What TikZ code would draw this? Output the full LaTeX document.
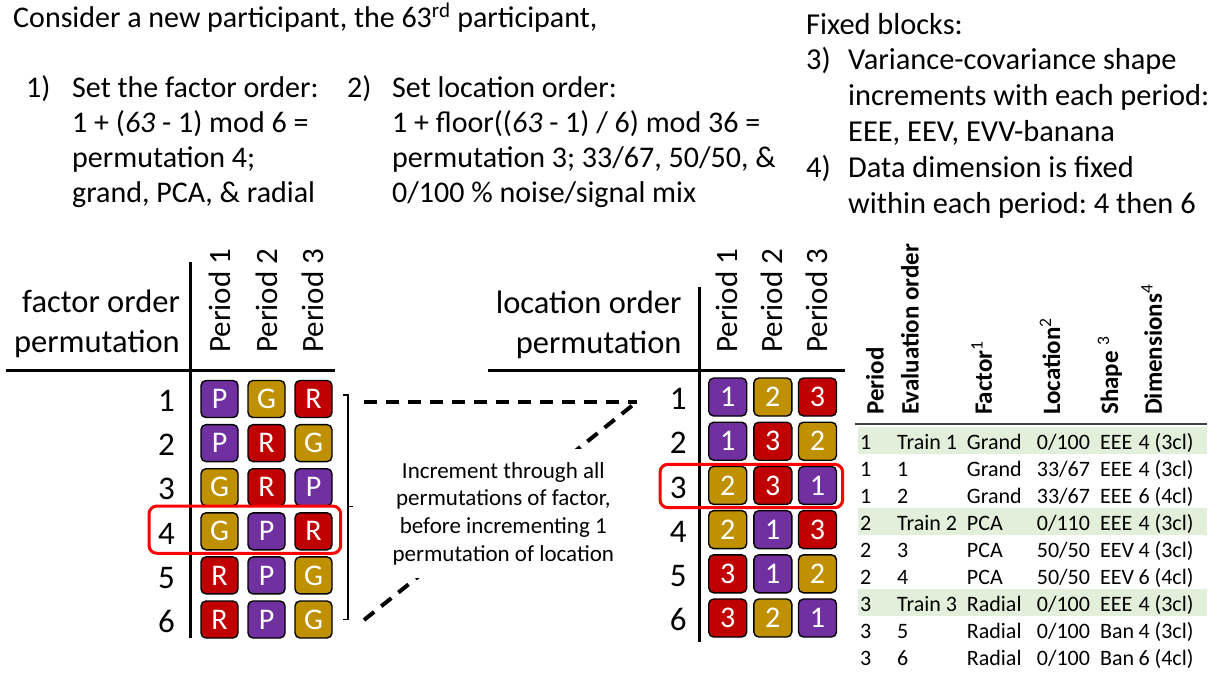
\documentclass[tikz,border=0pt]{standalone}
\usepackage{fontspec}
\setmainfont{Carlito}
\frenchspacing
\definecolor{cP}{HTML}{7030A0}
\definecolor{cG}{HTML}{BF9000}
\definecolor{cR}{HTML}{C00000}
\definecolor{c1}{HTML}{7030A0}
\definecolor{c2}{HTML}{BF9000}
\definecolor{c3}{HTML}{C00000}
\definecolor{hlred}{HTML}{FF0000}
\definecolor{band}{HTML}{E2EFDA}
\definecolor{rule}{HTML}{404040}
\tikzset{
  txt/.style={inner sep=0pt, font=\fontsize{30.4}{35.8}\selectfont, align=left},
  txtl/.style={inner sep=0pt, font=\fontsize{30}{35.3}\selectfont, align=left},
  hdr/.style={inner sep=0pt, font=\fontsize{32.5}{38}\selectfont},
  per/.style={inner sep=0pt, rotate=90, anchor=west, font=\fontsize{31}{36}\selectfont},
  rownum/.style={inner sep=0pt, anchor=base east, font=\fontsize{33}{38}\selectfont},
  tile/.style={draw=black, line width=1.4pt, rounded corners=5pt, minimum width=37pt, minimum height=37pt, inner sep=0pt, text=white, font=\fontsize{30}{32}\selectfont},
  tabline/.style={line width=3pt},
  hl/.style={draw=hlred, line width=3pt, rounded corners=8pt},
  dashline/.style={line width=4pt, dash pattern=on 13pt off 9pt},
  note/.style={fill=white, inner xsep=6pt, inner ysep=0pt, minimum height=129pt, align=center, font=\fontsize{23}{27.7}\selectfont},
  thdr/.style={inner sep=0pt, rotate=90, anchor=west, font=\bfseries\fontsize{25}{30}\selectfont},
  cell/.style={inner sep=0pt, anchor=base west, font=\fontsize{22}{27}\selectfont},
}
\begin{document}
\begin{tikzpicture}[x=1pt,y=-1pt]
\useasboundingbox (0,0) rectangle (1222,691);

% ---------- top texts (base anchor = last line) ----------
\node[txtl, anchor=base west] (intro) at (13,27) {Consider a new participant, the 63\textsuperscript{rd} participant,};
\node[txtl, anchor=base west] (n1) at (26,97) {1)};
\node[txtl, anchor=base west] (s1) at (72,202.9) {Set the factor order:\\1 + (\textit{63} - 1) mod 6 =\\permutation 4;\\grand, PCA, \& radial};
\node[txtl, anchor=base west] (n2) at (347,97) {2)};
\node[txtl, anchor=base west] (s2) at (392,202.9) {Set location order:\\1 + floor((\textit{63} - 1) / 6) mod 36 =\\permutation 3; 33/67, 50/50, \&\\0/100 \% noise/signal mix};
\node[txt, anchor=base west] (fixed) at (806,34) {Fixed blocks:};
\node[txt, anchor=base west] (n3) at (806,69.8) {3)};
\node[txt, anchor=base west] (s3) at (848,141.4) {Variance-covariance shape\\increments with each period:\\EEE, EEV, EVV-banana};
\node[txt, anchor=base west] (n4) at (806,177.2) {4)};
\node[txt, anchor=base west] (s4) at (848,213) {Data dimension is fixed\\within each period: 4 then 6};

% ---------- factor order table ----------
\node[hdr, anchor=base east] (fh1) at (180,312) {factor order};
\node[hdr, anchor=base east] (fh2) at (180,352) {permutation};
\node[per] (fp1) at (220,353) {Period 1};
\node[per] (fp2) at (266.5,353) {Period 2};
\node[per] (fp3) at (313,353) {Period 3};
\draw[tabline] (6,370.7) -- (335,370.7);
\draw[tabline] (190.7,262) -- (190.7,638);
\foreach \r/\a/\b/\c in {1/P/G/R,2/P/R/G,3/G/R/P,4/G/P/R,5/R/P/G,6/R/P/G}{
  \pgfmathsetmacro{\yy}{399+44.1*(\r-1)}
  \node[rownum] (fn\r) at (175,\yy+12.7) {\r};
  \node[tile, fill=c\a] (f\r a) at (219.5,\yy) {\a};
  \node[tile, fill=c\b] (f\r b) at (266.5,\yy) {\b};
  \node[tile, fill=c\c] (f\r c) at (313.5,\yy) {\c};
}
\draw[hl] (149,506) rectangle (340.7,553.3);

% bracket
\draw[line width=1.4pt] (343,395) -- (348,395) -- (348,619.3) -- (343,619.3);
\draw[line width=1.4pt] (348,506.7) -- (353,506.7);

% ---------- location order table ----------
\node[hdr, anchor=base east] (lh1) at (681.7,313) {location order};
\node[hdr, anchor=base east] (lh2) at (681.7,353) {permutation};
\node[per] (lp1) at (727,353) {Period 1};
\node[per] (lp2) at (772,353) {Period 2};
\node[per] (lp3) at (817,353) {Period 3};
\draw[tabline] (488,370.7) -- (845,370.7);
\draw[tabline] (699,287) -- (699,642);
\foreach \r/\a/\b/\c in {1/1/2/3,2/1/3/2,3/2/3/1,4/2/1/3,5/3/1/2,6/3/2/1}{
  \pgfmathsetmacro{\yy}{397+44.2*(\r-1)}
  \node[rownum] (ln\r) at (686.7,\yy+12.7) {\r};
  \node[tile, fill=c\a, minimum width=38pt, minimum height=38pt] (l\r a) at (727.7,\yy) {\a};
  \node[tile, fill=c\b, minimum width=38pt, minimum height=38pt] (l\r b) at (772.8,\yy) {\b};
  \node[tile, fill=c\c, minimum width=38pt, minimum height=38pt] (l\r c) at (817.5,\yy) {\c};
}
\draw[hl] (660,464.3) rectangle (842.7,507.7);

% ---------- dashed connectors ----------
\coordinate (bt) at (364,401.7);
\coordinate (bb) at (364,620);
\coordinate (apex) at (637,401.7);
\draw[dashline] (bt) -- (apex);
\draw[dashline] (bb) -- (apex);
\node[note] (inc) at (503.3,513.5) {Increment through all\\permutations of factor,\\before incrementing 1\\permutation of location};

% ---------- right table ----------
\node[thdr] (th1) at (875,415) {Period};
\node[thdr] (th2) at (910,415) {Evaluation order};
\node[thdr] (th3) at (981.7,415) {Factor\textsuperscript{\mdseries 1}};
\node[thdr] (th4) at (1050,415) {Location\textsuperscript{\mdseries 2}};
\node[thdr] (th5) at (1110,415) {Shape \textsuperscript{\mdseries 3}};
\node[thdr] (th6) at (1151.7,415) {Dimensions\textsuperscript{\mdseries 4}};
\foreach \k in {0,3,6}{
  \fill[band] (858,427+27*\k) rectangle (1206.7,454+27*\k);
}
\draw[draw=rule, line width=2pt] (855,424.3) -- (1207,424.3);
\foreach \i/\pa/\ev/\fa/\lo/\sh/\di in {
  0/1/Train 1/Grand/0\slash 100/EEE/4 (3cl),
  1/1/1/Grand/33\slash 67/EEE/4 (3cl),
  2/1/2/Grand/33\slash 67/EEE/6 (4cl),
  3/2/Train 2/PCA/0\slash 110/EEE/4 (3cl),
  4/2/3/PCA/50\slash 50/EEV/4 (3cl),
  5/2/4/PCA/50\slash 50/EEV/6 (4cl),
  6/3/Train 3/Radial/0\slash 100/EEE/4 (3cl),
  7/3/5/Radial/0\slash 100/Ban/4 (3cl),
  8/3/6/Radial/0\slash 100/Ban/6 (4cl)}{
  \pgfmathsetmacro{\bl}{449.5+27*\i}
  \node[cell] (r\i p) at (860,\bl) {\pa};
  \node[cell] (r\i e) at (897,\bl) {\ev};
  \node[cell] (r\i f) at (966.7,\bl) {\fa};
  \node[cell] (r\i l) at (1036.7,\bl) {\lo};
  \node[cell] (r\i s) at (1100,\bl) {\sh};
  \node[cell] (r\i d) at (1138.3,\bl) {\di};
}
\end{tikzpicture}
\end{document}
